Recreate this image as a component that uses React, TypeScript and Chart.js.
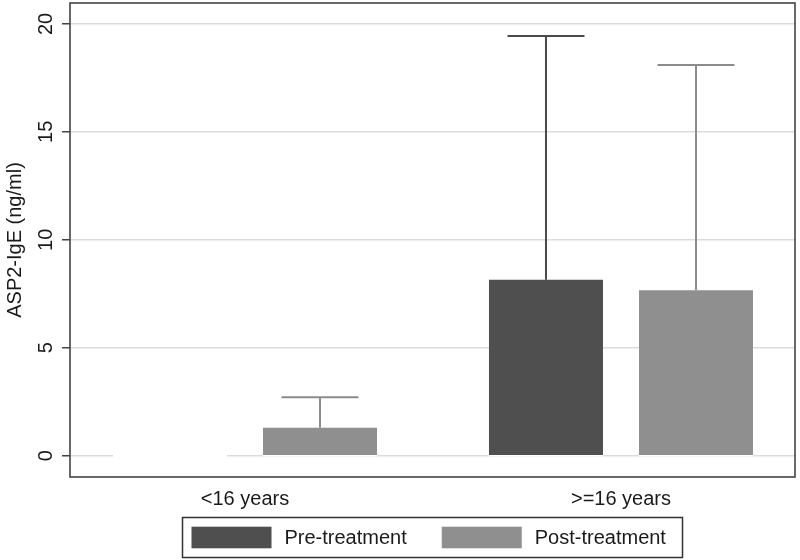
import React, { useEffect, useRef } from 'react';
import { Chart, registerables } from 'chart.js';

Chart.register(...registerables);

// ---- data ----
const categories = ['<16 years', '>=16 years'];
const seriesNames = ['Pre-treatment', 'Post-treatment'];
const preTreatment = [0, 8.15];
const postTreatment = [1.29, 7.66];
const preUpper: (number | null)[] = [null, 19.44];
const postUpper: (number | null)[] = [2.7, 18.1];
const yTicks = [0, 5, 10, 15, 20];
const yTitle = 'ASP2-IgE (ng/ml)';

// ---- styles ----
const FONT = "'Liberation Sans', Arial, 'DejaVu Sans', sans-serif";
const TEXT = '#1a1a1a';
const PRE_COLOR = '#4f4f4f';
const POST_COLOR = '#8f8f8f';
const PRE_WHISKER = '#4a4a4a';
const POST_WHISKER = '#8c8c8c';

const knockoutPlugin = {
  id: 'knockout',
  beforeDatasetsDraw(chart: any) {
    const ctx = chart.ctx;
    ctx.save();
    ctx.fillStyle = '#ffffff';
    chart.data.datasets.forEach((_ds: any, i: number) => {
      const meta = chart.getDatasetMeta(i);
      meta.data.forEach((bar: any) => {
        const { x, y, base, width } = bar.getProps(['x', 'y', 'base', 'width'], true);
        const top = Math.min(y, base) - 1.5;
        ctx.fillRect(x - width / 2, top, width, Math.abs(base - y) + 3);
      });
    });
    ctx.restore();
  },
};

const errorBarPlugin = {
  id: 'errorBars',
  afterDatasetsDraw(chart: any) {
    const ctx = chart.ctx;
    const yScale = chart.scales.y;
    chart.data.datasets.forEach((ds: any, i: number) => {
      const meta = chart.getDatasetMeta(i);
      meta.data.forEach((bar: any, j: number) => {
        const up = ds.upper ? ds.upper[j] : null;
        if (up == null) return;
        const { x, y, width } = bar.getProps(['x', 'y', 'width'], true);
        const yUp = yScale.getPixelForValue(up);
        const half = width * 0.3375;
        ctx.save();
        ctx.strokeStyle = ds.whiskerColor;
        ctx.lineWidth = 2;
        ctx.beginPath();
        ctx.moveTo(x, y);
        ctx.lineTo(x, yUp);
        ctx.moveTo(x - half, yUp);
        ctx.lineTo(x + half, yUp);
        ctx.stroke();
        ctx.restore();
      });
    });
  },
};

const frameLegendPlugin = {
  id: 'frameLegend',
  afterDraw(chart: any) {
    const { ctx, chartArea: a } = chart;
    ctx.save();
    ctx.strokeStyle = '#444';
    ctx.lineWidth = 1.6;
    ctx.strokeRect(a.left, a.top, a.right - a.left, a.bottom - a.top);

    // legend
    const cx = (a.left + a.right) / 2;
    const boxW = 500;
    const boxH = 40;
    const lx = cx - boxW / 2;
    const ly = a.bottom + 40.5;
    ctx.strokeStyle = '#333';
    ctx.lineWidth = 1.5;
    ctx.strokeRect(lx, ly, boxW, boxH);
    ctx.font = `20px ${FONT}`;
    ctx.textBaseline = 'middle';
    ctx.textAlign = 'left';
    let x = lx + 9;
    chart.data.datasets.forEach((ds: any) => {
      ctx.fillStyle = ds.backgroundColor;
      ctx.fillRect(x, ly + 9.2, 80, 21.6);
      x += 80 + 13;
      ctx.fillStyle = TEXT;
      ctx.fillText(ds.label, x, ly + 20.5);
      x += ctx.measureText(ds.label).width + 35;
    });
    ctx.restore();
  },
};

export default function App() {
  const canvasRef = useRef<HTMLCanvasElement | null>(null);

  useEffect(() => {
    if (!canvasRef.current) return;
    const toPoints = (arr: number[]) => arr.map((v, i) => ({ x: i, y: v }));
    const chart = new Chart(canvasRef.current, {
      type: 'bar',
      data: {
        datasets: [
          {
            label: seriesNames[0],
            data: toPoints(preTreatment),
            backgroundColor: PRE_COLOR,
            borderWidth: 0,
            categoryPercentage: 0.7979,
            barPercentage: 0.76,
            upper: preUpper,
            whiskerColor: PRE_WHISKER,
          } as any,
          {
            label: seriesNames[1],
            data: toPoints(postTreatment),
            backgroundColor: POST_COLOR,
            borderWidth: 0,
            categoryPercentage: 0.7979,
            barPercentage: 0.76,
            upper: postUpper,
            whiskerColor: POST_WHISKER,
          } as any,
        ],
      },
      options: {
        responsive: false,
        animation: false,
        events: [],
        layout: { padding: { top: 3, right: 5, left: 0, bottom: 0 } },
        plugins: {
          legend: { display: false },
          tooltip: { enabled: false },
        },
        scales: {
          x: {
            type: 'linear',
            offset: false,
            min: -0.4654,
            max: 1.4628,
            afterBuildTicks: (axis: any) => {
              axis.ticks = categories.map((_c, i) => ({ value: i }));
            },
            afterFit: (axis: any) => {
              axis.height = 83;
              axis.paddingLeft = 0;
              axis.paddingRight = 0;
            },
            ticks: {
              callback: (v: any) => categories[v] ?? '',
              font: { family: FONT, size: 20 },
              color: TEXT,
              padding: 10,
              maxRotation: 0,
              minRotation: 0,
              autoSkip: false,
            },
            grid: { display: false, drawTicks: false },
            border: { display: false },
          } as any,
          y: {
            min: -0.99,
            max: 20.97,
            afterBuildTicks: (axis: any) => {
              axis.ticks = yTicks.map((v) => ({ value: v }));
            },
            afterFit: (axis: any) => {
              axis.width = 70;
              axis.paddingTop = 0;
              axis.paddingBottom = 0;
            },
            ticks: {
              font: { family: FONT, size: 20 },
              color: TEXT,
              minRotation: 90,
              maxRotation: 90,
              crossAlign: 'center',
              padding: 4.5,
            },
            grid: {
              color: '#dcdcdc',
              lineWidth: 1.5,
              tickColor: '#444',
              tickWidth: 1.5,
              tickLength: 8,
              drawTicks: true,
            },
            border: { display: false },
            title: {
              display: true,
              text: yTitle,
              font: { family: FONT, size: 20 },
              color: TEXT,
              padding: { top: 3, bottom: 0 },
            },
          } as any,
        },
      },
      plugins: [knockoutPlugin, errorBarPlugin, frameLegendPlugin],
    });
    return () => chart.destroy();
  }, []);

  return (
    <div style={{ position: 'absolute', left: 0, top: 0, width: 800, height: 560, background: '#fff' }}>
      <canvas ref={canvasRef} width={800} height={560} style={{ display: 'block', width: 800, height: 560 }} />
    </div>
  );
}
